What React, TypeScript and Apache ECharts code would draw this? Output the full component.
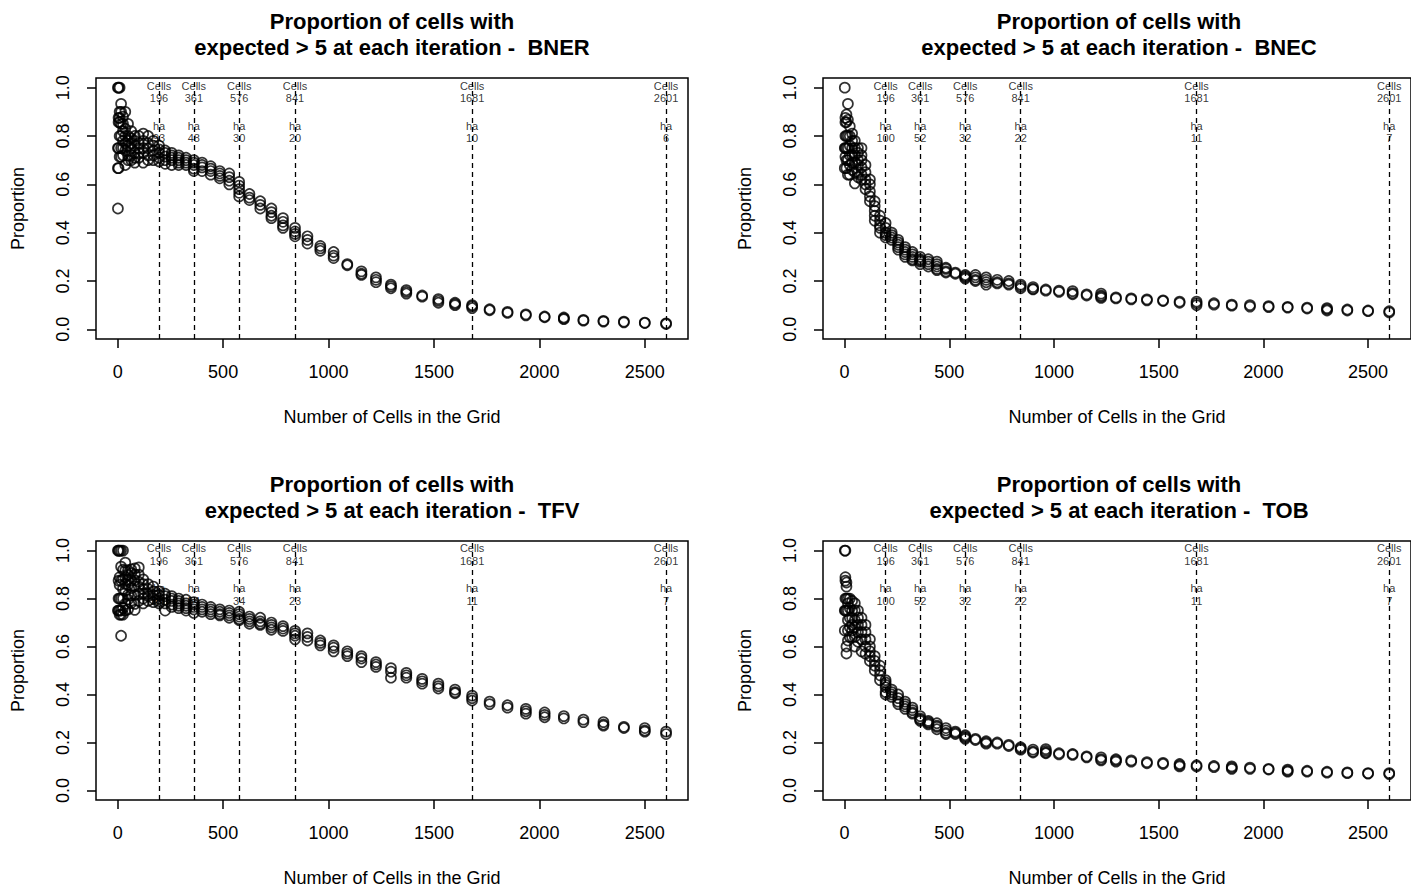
import React, { useEffect, useRef } from "react";
import * as echarts from "echarts";

// Number of cells in each grid iteration (x values)
const gridCells = [
  1, 4, 9, 16, 25, 36, 49, 64, 81, 100, 121, 144, 169, 196, 225, 256, 289, 324, 361, 400,
  441, 484, 529, 576, 625, 676, 729, 784, 841, 900, 961, 1024, 1089, 1156, 1225, 1296, 1369,
  1444, 1521, 1600, 1681, 1764, 1849, 1936, 2025, 2116, 2209, 2304, 2401, 2500, 2601,
];

// Proportions observed at each grid size (one row per entry of gridCells)
const propBNER: number[][] = [
  [0.5, 0.667, 0.75, 1.0],
  [1.0, 0.667, 0.75, 0.857, 0.875],
  [1.0, 0.714, 0.8, 0.875, 0.9, 0.857],
  [0.933, 0.85, 0.8, 0.75, 0.714, 0.9],
  [0.88, 0.82, 0.78, 0.72, 0.75, 0.85],
  [0.9, 0.8, 0.77, 0.68, 0.74, 0.83],
  [0.85, 0.8, 0.76, 0.72, 0.7, 0.78],
  [0.82, 0.79, 0.75, 0.72, 0.7, 0.77],
  [0.8, 0.78, 0.76, 0.73, 0.71, 0.69],
  [0.8, 0.77, 0.75, 0.73, 0.71],
  [0.81, 0.78, 0.75, 0.73, 0.69],
  [0.8, 0.77, 0.75, 0.72, 0.7],
  [0.78, 0.76, 0.74, 0.72, 0.7],
  [0.76, 0.745, 0.73, 0.71, 0.695],
  [0.74, 0.73, 0.715, 0.7, 0.685],
  [0.73, 0.72, 0.71, 0.7, 0.68],
  [0.72, 0.71, 0.7, 0.69, 0.68],
  [0.71, 0.7, 0.69, 0.68],
  [0.7, 0.69, 0.68, 0.665, 0.655],
  [0.69, 0.68, 0.67, 0.655],
  [0.675, 0.665, 0.655, 0.64],
  [0.655, 0.645, 0.635, 0.625],
  [0.645, 0.63, 0.615, 0.6],
  [0.61, 0.595, 0.58, 0.565, 0.55],
  [0.56, 0.545, 0.535],
  [0.53, 0.515, 0.5],
  [0.5, 0.485, 0.47, 0.46],
  [0.46, 0.445, 0.43, 0.42],
  [0.42, 0.405, 0.395, 0.385],
  [0.385, 0.37, 0.355],
  [0.345, 0.335, 0.325],
  [0.32, 0.305, 0.295],
  [0.27, 0.265],
  [0.24, 0.23, 0.225],
  [0.215, 0.205, 0.195],
  [0.185, 0.178, 0.17],
  [0.162, 0.155, 0.148],
  [0.14, 0.135],
  [0.125, 0.118, 0.11],
  [0.11, 0.105, 0.1],
  [0.1, 0.095, 0.088],
  [0.083, 0.079],
  [0.072, 0.068],
  [0.062, 0.058],
  [0.053, 0.05],
  [0.049, 0.045, 0.042],
  [0.039, 0.036],
  [0.035, 0.032],
  [0.032, 0.029],
  [0.028, 0.026],
  [0.025, 0.022],
];

const propBNEC: number[][] = [
  [1.0, 0.75, 0.667],
  [0.875, 0.857, 0.8, 0.75, 0.714],
  [0.889, 0.857, 0.8, 0.75, 0.7, 0.667],
  [0.933, 0.867, 0.8, 0.75, 0.7, 0.64],
  [0.84, 0.8, 0.76, 0.72, 0.68, 0.64],
  [0.81, 0.78, 0.75, 0.72, 0.69, 0.66],
  [0.78, 0.75, 0.72, 0.69, 0.65, 0.604],
  [0.75, 0.73, 0.7, 0.68, 0.65, 0.63],
  [0.75, 0.72, 0.7, 0.67, 0.64, 0.62],
  [0.68, 0.65, 0.62, 0.6, 0.58],
  [0.62, 0.6, 0.57, 0.55, 0.53],
  [0.53, 0.51, 0.49, 0.47, 0.45],
  [0.47, 0.45, 0.43, 0.42, 0.4],
  [0.44, 0.42, 0.4, 0.39, 0.38],
  [0.4, 0.39, 0.38, 0.37],
  [0.37, 0.36, 0.35, 0.34, 0.33],
  [0.34, 0.33, 0.32, 0.31, 0.3],
  [0.32, 0.31, 0.3, 0.29, 0.285],
  [0.3, 0.29, 0.285, 0.28, 0.27],
  [0.29, 0.28, 0.27, 0.26],
  [0.28, 0.27, 0.26, 0.25, 0.245],
  [0.255, 0.25, 0.24, 0.235],
  [0.235, 0.23],
  [0.225, 0.22, 0.215, 0.21],
  [0.225, 0.215, 0.205, 0.2],
  [0.215, 0.205, 0.195, 0.185],
  [0.205, 0.195, 0.19],
  [0.2, 0.19, 0.185],
  [0.185, 0.178, 0.17],
  [0.175, 0.168, 0.165],
  [0.165, 0.16],
  [0.16, 0.155],
  [0.158, 0.15, 0.145],
  [0.145, 0.14],
  [0.148, 0.14, 0.135, 0.13],
  [0.132, 0.128],
  [0.128, 0.124],
  [0.124, 0.12],
  [0.12, 0.117],
  [0.115, 0.11],
  [0.115, 0.108, 0.1],
  [0.108, 0.102],
  [0.102, 0.098],
  [0.1, 0.094],
  [0.096, 0.092],
  [0.093, 0.09],
  [0.09, 0.086],
  [0.088, 0.083, 0.078],
  [0.082, 0.078],
  [0.078, 0.075],
  [0.075, 0.07],
];

const propTFV: number[][] = [
  [1.0, 0.75],
  [1.0, 0.875, 0.75, 0.8],
  [1.0, 0.889, 0.857, 0.8, 0.75, 0.733],
  [1.0, 0.933, 0.875, 0.8, 0.75, 0.733, 0.645],
  [1.0, 0.92, 0.88, 0.84, 0.8, 0.76, 0.733],
  [0.95, 0.917, 0.889, 0.861, 0.833, 0.778, 0.75],
  [0.918, 0.898, 0.878, 0.857, 0.816, 0.796, 0.755],
  [0.922, 0.906, 0.875, 0.844, 0.813, 0.781],
  [0.926, 0.901, 0.877, 0.852, 0.815, 0.778, 0.753],
  [0.93, 0.9, 0.87, 0.85, 0.82, 0.79],
  [0.88, 0.86, 0.84, 0.82, 0.8, 0.78],
  [0.86, 0.84, 0.82, 0.81, 0.79],
  [0.85, 0.83, 0.815, 0.8, 0.785],
  [0.83, 0.815, 0.8, 0.79, 0.78],
  [0.82, 0.81, 0.795, 0.78, 0.75],
  [0.81, 0.8, 0.79, 0.775, 0.765],
  [0.8, 0.79, 0.78, 0.77, 0.76],
  [0.795, 0.78, 0.77, 0.76, 0.75],
  [0.785, 0.775, 0.765, 0.755, 0.74],
  [0.775, 0.765, 0.755, 0.745],
  [0.765, 0.755, 0.745, 0.735],
  [0.755, 0.745, 0.735, 0.73],
  [0.75, 0.74, 0.73, 0.72],
  [0.745, 0.735, 0.725, 0.715, 0.71],
  [0.725, 0.715, 0.705, 0.695],
  [0.72, 0.705, 0.695, 0.69],
  [0.7, 0.69, 0.68, 0.67],
  [0.685, 0.675, 0.665],
  [0.665, 0.655, 0.645, 0.63],
  [0.655, 0.64, 0.625],
  [0.625, 0.615, 0.605],
  [0.605, 0.595, 0.58],
  [0.58, 0.57, 0.56],
  [0.56, 0.55, 0.535],
  [0.535, 0.525, 0.515],
  [0.51, 0.495, 0.47],
  [0.49, 0.48, 0.47],
  [0.465, 0.455, 0.445],
  [0.445, 0.435, 0.425],
  [0.42, 0.41, 0.405],
  [0.395, 0.385, 0.375],
  [0.37, 0.36],
  [0.355, 0.345],
  [0.34, 0.33, 0.32],
  [0.325, 0.315, 0.305],
  [0.31, 0.3],
  [0.295, 0.285],
  [0.285, 0.275, 0.27],
  [0.265, 0.26],
  [0.26, 0.25, 0.245],
  [0.245, 0.235],
];

const propTOB: number[][] = [
  [1.0, 0.75, 0.667],
  [1.0, 0.889, 0.875, 0.8, 0.75],
  [0.867, 0.85, 0.8, 0.75, 0.6, 0.571],
  [0.8, 0.78, 0.75, 0.71, 0.667, 0.625],
  [0.8, 0.76, 0.72, 0.68, 0.64],
  [0.79, 0.75, 0.72, 0.69, 0.667, 0.64],
  [0.78, 0.75, 0.71, 0.68, 0.64, 0.6],
  [0.75, 0.72, 0.69, 0.66, 0.62],
  [0.72, 0.69, 0.66, 0.63, 0.58],
  [0.69, 0.66, 0.63, 0.6, 0.57],
  [0.63, 0.6, 0.58, 0.56, 0.54],
  [0.56, 0.54, 0.52, 0.5],
  [0.52, 0.5, 0.48, 0.46],
  [0.46, 0.45, 0.44, 0.43, 0.41, 0.4],
  [0.42, 0.41, 0.4, 0.39],
  [0.4, 0.385, 0.37, 0.36],
  [0.37, 0.36, 0.35, 0.34],
  [0.345, 0.335, 0.325, 0.32],
  [0.31, 0.3, 0.295, 0.29],
  [0.29, 0.285, 0.28, 0.275],
  [0.28, 0.27, 0.265, 0.255],
  [0.26, 0.25, 0.24, 0.235],
  [0.245, 0.24, 0.235],
  [0.23, 0.225, 0.22, 0.215],
  [0.215, 0.21],
  [0.205, 0.2, 0.195],
  [0.2, 0.195],
  [0.19, 0.185],
  [0.18, 0.175, 0.17],
  [0.17, 0.162, 0.158],
  [0.172, 0.165, 0.158, 0.155],
  [0.155, 0.15],
  [0.152, 0.148],
  [0.142, 0.138],
  [0.138, 0.13, 0.125],
  [0.13, 0.125, 0.12],
  [0.125, 0.12],
  [0.118, 0.113],
  [0.115, 0.11],
  [0.11, 0.105, 0.1],
  [0.105, 0.1],
  [0.102, 0.097],
  [0.1, 0.095, 0.09],
  [0.095, 0.09],
  [0.09, 0.087],
  [0.087, 0.082, 0.078],
  [0.082, 0.078],
  [0.078, 0.074],
  [0.075, 0.072],
  [0.072, 0.07],
  [0.072, 0.068],
];

// Reference grid sizes marked with dashed lines, and hectares per cell
const markCells = [196, 361, 576, 841, 1681, 2601];
const haBNER = [93, 48, 30, 20, 10, 6];
const haBNEC = [100, 52, 32, 22, 11, 7];
const haTFV = [100, 54, 34, 23, 11, 7];
const haTOB = [100, 52, 32, 22, 11, 7];

const xTicks = [0, 500, 1000, 1500, 2000, 2500];
const yTicks = [0, 0.2, 0.4, 0.6, 0.8, 1.0];

const panels = [
  { name: "BNER", props: propBNER, ha: haBNER, left: 96, top: 78 },
  { name: "BNEC", props: propBNEC, ha: haBNEC, left: 823, top: 78 },
  { name: "TFV", props: propTFV, ha: haTFV, left: 96, top: 541 },
  { name: "TOB", props: propTOB, ha: haTOB, left: 823, top: 541 },
];

const FONT = '"Liberation Sans", Arial, Helvetica, sans-serif';
const GRID_W = 592;
const GRID_H = 261;

function buildOption() {
  const grids: any[] = [];
  const xAxes: any[] = [];
  const yAxes: any[] = [];
  const series: any[] = [];
  const graphics: any[] = [];

  panels.forEach((p, i) => {
    grids.push({
      left: p.left,
      top: p.top,
      width: GRID_W,
      height: GRID_H,
      show: true,
      borderColor: "#000",
      borderWidth: 1.5,
      backgroundColor: "transparent",
    });
    xAxes.push({
      type: "value",
      gridIndex: i,
      min: -103,
      max: 2705,
      splitLine: { show: false },
      axisLine: { show: false, onZero: false },
      axisTick: {
        show: true,
        customValues: xTicks,
        length: 9,
        inside: false,
        lineStyle: { color: "#000", width: 1.5 },
      },
      axisLabel: {
        customValues: xTicks,
        formatter: (v: number) => String(v),
        margin: 24,
        fontSize: 18,
        color: "#000",
        fontFamily: FONT,
      },
      name: "Number of Cells in the Grid",
      nameLocation: "middle",
      nameGap: 69,
      nameTextStyle: { fontSize: 18, color: "#000", fontFamily: FONT },
    });
    yAxes.push({
      type: "value",
      gridIndex: i,
      min: -0.04,
      max: 1.04,
      splitLine: { show: false },
      axisLine: { show: false, onZero: false },
      axisTick: {
        show: true,
        customValues: yTicks,
        length: 9,
        inside: false,
        lineStyle: { color: "#000", width: 1.5 },
      },
      axisLabel: {
        customValues: yTicks,
        formatter: (v: number) => v.toFixed(1),
        rotate: 90,
        margin: 24,
        fontSize: 18,
        color: "#000",
        fontFamily: FONT,
      },
      name: "Proportion",
      nameLocation: "middle",
      nameGap: 69,
      nameTextStyle: { fontSize: 18, color: "#000", fontFamily: FONT },
    });

    // label series: "Cells / N" and "ha / value"
    const labelData: any[] = [];
    markCells.forEach((c, k) => {
      labelData.push({ value: [c, 0.983], text: "Cells\n" + c });
      labelData.push({ value: [c, 0.816], text: "ha\n" + p.ha[k] });
    });
    series.push({
      type: "scatter",
      xAxisIndex: i,
      yAxisIndex: i,
      symbol: "circle",
      symbolSize: 1,
      itemStyle: { color: "rgba(0,0,0,0)" },
      silent: true,
      z: 1,
      data: labelData,
      label: {
        show: true,
        position: "inside",
        formatter: (d: any) => d.data.text,
        fontSize: 11,
        lineHeight: 12.5,
        color: "#000",
        fontFamily: FONT,
      },
      markLine: {
        silent: true,
        symbol: "none",
        label: { show: false },
        lineStyle: { color: "#000", type: [5, 4], width: 1.3 },
        data: markCells.map((c) => ({ xAxis: c })),
      },
    });

    const pts: number[][] = [];
    gridCells.forEach((x, k) => {
      p.props[k].forEach((y) => pts.push([x, y]));
    });
    series.push({
      type: "scatter",
      xAxisIndex: i,
      yAxisIndex: i,
      symbol: "circle",
      symbolSize: 10,
      z: 3,
      silent: true,
      itemStyle: { color: "rgba(0,0,0,0)", borderColor: "#000", borderWidth: 1.7 },
      emphasis: { disabled: true },
      data: pts,
    });

    const cx = p.left + GRID_W / 2;
    graphics.push({
      type: "text",
      x: cx,
      y: p.top - 57,
      style: {
        text: "Proportion of cells with",
        fontSize: 22,
        fontWeight: "bold",
        fontFamily: FONT,
        fill: "#000",
        align: "center",
        verticalAlign: "middle",
      },
    });
    graphics.push({
      type: "text",
      x: cx,
      y: p.top - 31,
      style: {
        text: "expected > 5 at each iteration -  " + p.name,
        fontSize: 22,
        fontWeight: "bold",
        fontFamily: FONT,
        fill: "#000",
        align: "center",
        verticalAlign: "middle",
      },
    });
  });

  return {
    animation: false,
    backgroundColor: "#fff",
    grid: grids,
    xAxis: xAxes,
    yAxis: yAxes,
    series,
    graphic: graphics,
  };
}

export default function App() {
  const ref = useRef<HTMLDivElement>(null);
  useEffect(() => {
    if (!ref.current) return;
    const chart = echarts.init(ref.current, undefined, { renderer: "svg" });
    chart.setOption(buildOption() as any);
    return () => chart.dispose();
  }, []);
  return (
    <div
      ref={ref}
      style={{ position: "absolute", left: 0, top: 0, width: 1411, height: 888, background: "#fff" }}
    />
  );
}
